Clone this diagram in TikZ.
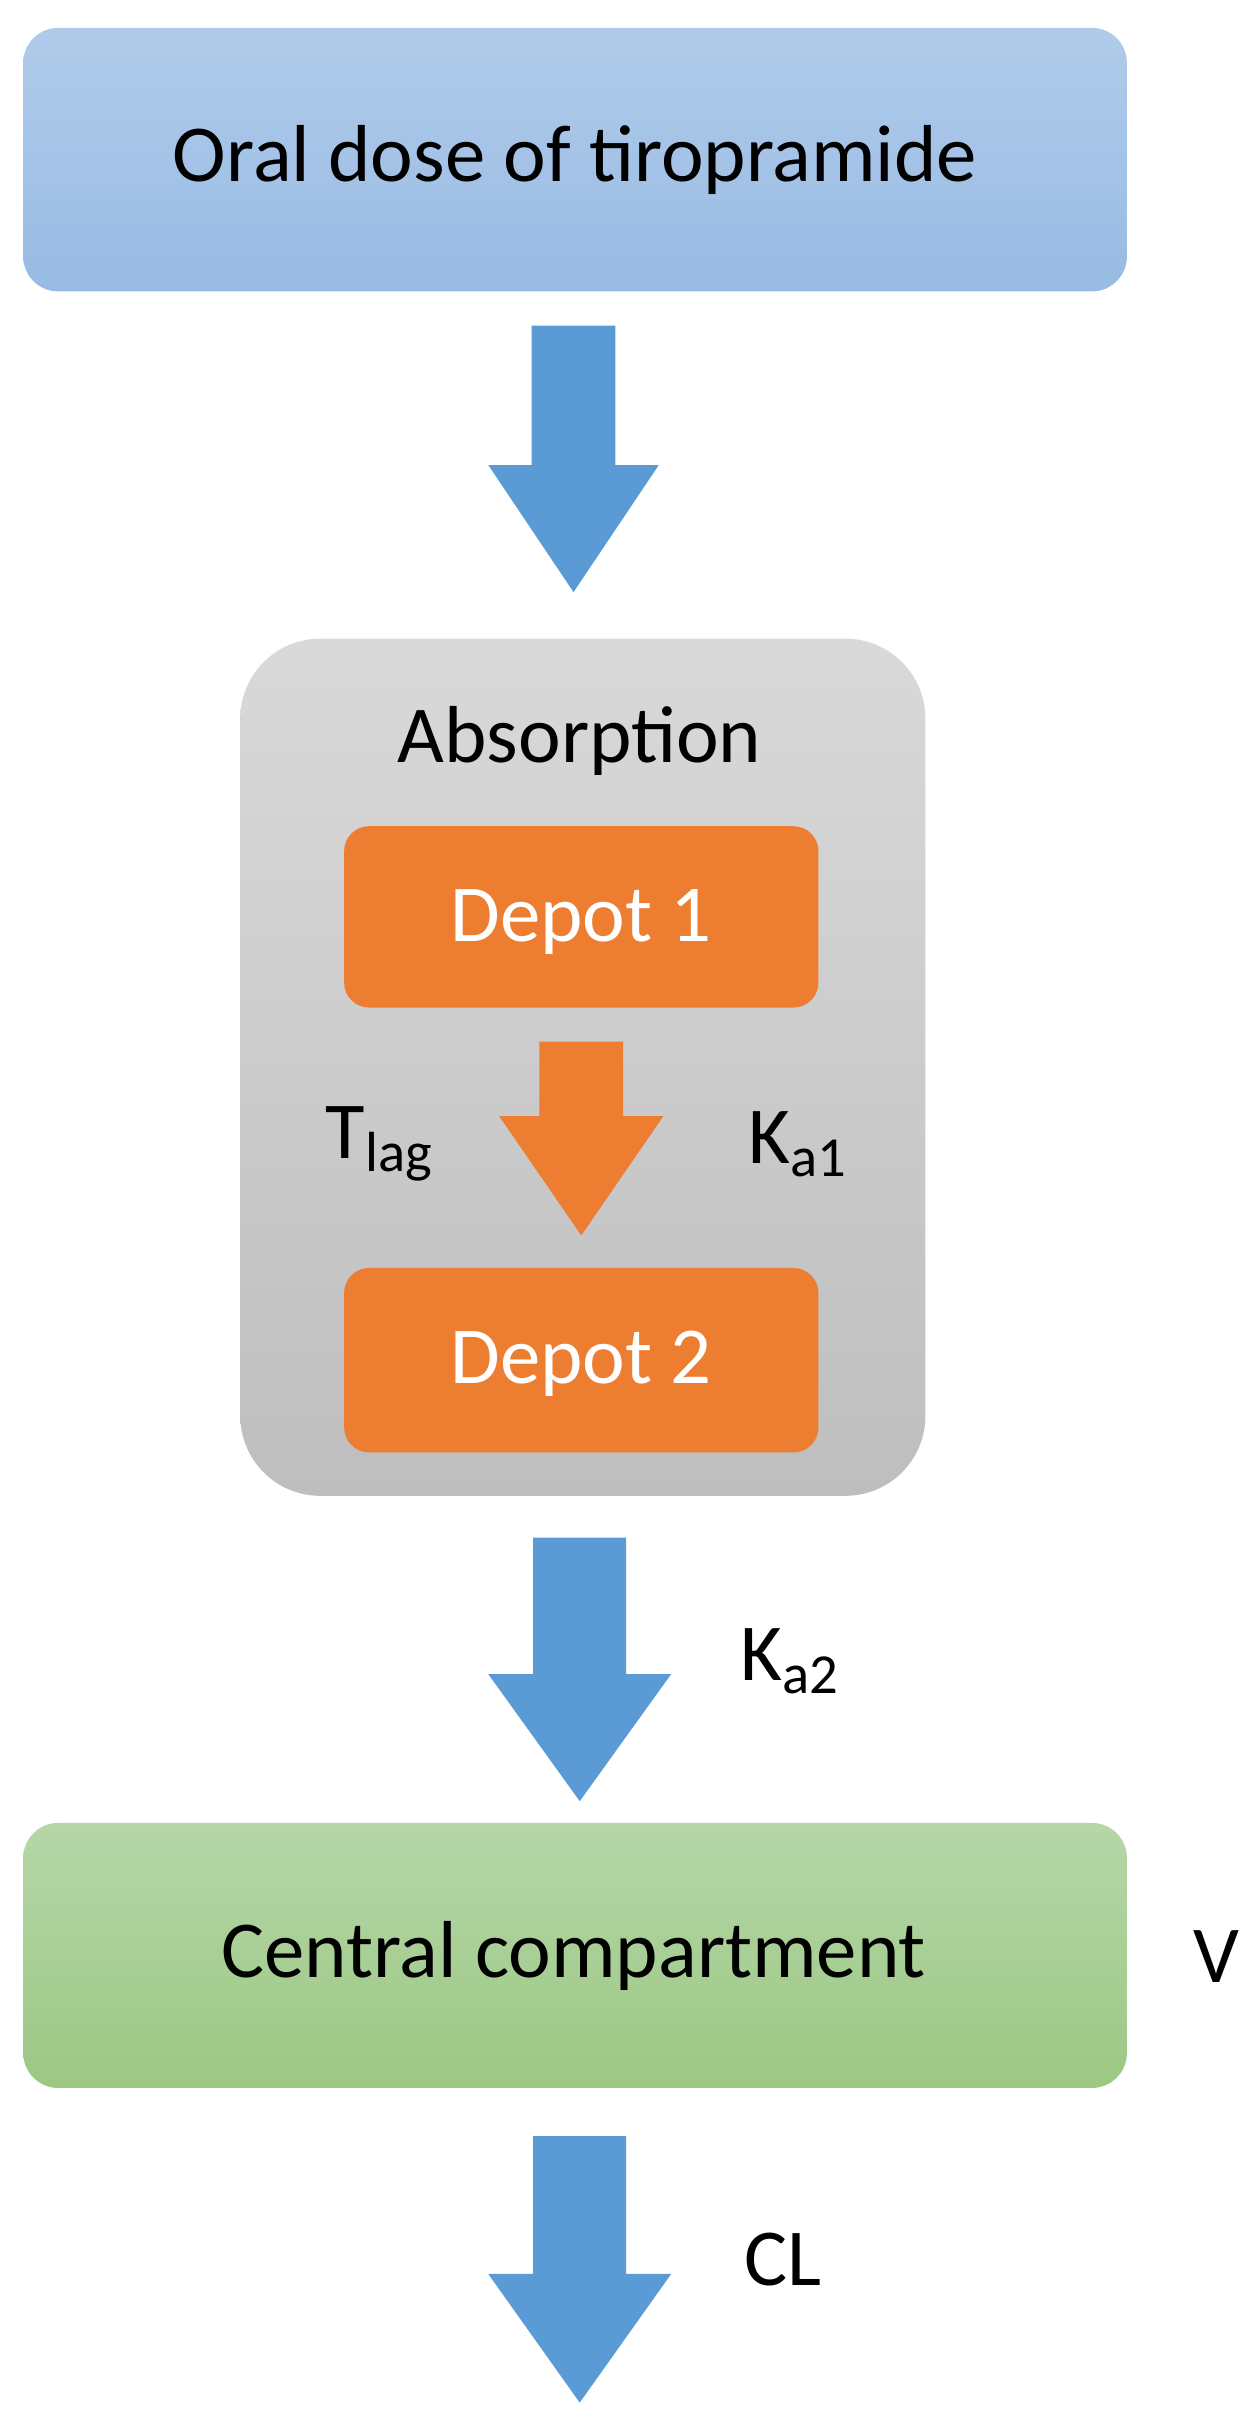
\documentclass[tikz,border=0pt]{standalone}
\usepackage{fontspec}
\setmainfont{Carlito}
\definecolor{arrblue}{HTML}{5B9BD5}
\definecolor{orng}{HTML}{ED7D31}
\begin{document}
\begin{tikzpicture}[x=0.0155cm,y=-0.0155cm,
  txt/.style={font=\fontsize{23}{27}\selectfont},
  box/.style={rounded corners=0.35cm},
  barr/.style={fill=arrblue,draw=none},
  oarr/.style={fill=orng,draw=none}]
\useasboundingbox (0,0) rectangle (812,1558);
% top box
\shade[box,top color=blue!25!cyan!10!white!100,bottom color=blue!25!cyan!10!white!100] (15,18) rectangle (727,188);
\definecolor{b1}{HTML}{B0CBEA}\definecolor{b2}{HTML}{98BBE3}
\shade[box,top color=b1,bottom color=b2] (15,18) rectangle (727,188);
\node[txt] (oral) at (371,103) {Oral dose of tiropramide};
% arrow 1
\fill[barr] (343,210) -- (397,210) -- (397,300) -- (425,300) -- (370,382) -- (315,300) -- (343,300) -- cycle;
% absorption
\definecolor{g1}{HTML}{D9D9D9}\definecolor{g2}{HTML}{BEBEBE}
\shade[rounded corners=0.8cm,top color=g1,bottom color=g2] (155,412) rectangle (597,965);
\node[txt] (abs) at (374,478) {Absorption};
\fill[orng,rounded corners=0.25cm] (222,533) rectangle (528,650);
\node[txt,text=white] (d1) at (375,595) {Depot 1};
\fill[oarr] (348,672) -- (402,672) -- (402,720) -- (428,720) -- (375,797) -- (322,720) -- (348,720) -- cycle;
\node[txt] (tlag) at (245,738) {T\textsubscript{lag}};
\node[txt] (ka1) at (515,738) {K\textsubscript{a1}};
\fill[orng,rounded corners=0.25cm] (222,818) rectangle (528,937);
\node[txt,text=white] (d2) at (375,880) {Depot 2};
% arrow 2
\fill[barr] (344,992) -- (404,992) -- (404,1080) -- (433,1080) -- (374,1162) -- (315,1080) -- (344,1080) -- cycle;
\node[txt] (ka2) at (510,1072) {K\textsubscript{a2}};
% central
\definecolor{c1}{HTML}{B6D6A8}\definecolor{c2}{HTML}{9BC883}
\shade[box,top color=c1,bottom color=c2] (15,1176) rectangle (727,1347);
\node[txt] (cent) at (370,1262) {Central compartment};
\node[txt] (v) at (785,1262) {V};
% arrow 3
\fill[barr] (344,1378) -- (404,1378) -- (404,1467) -- (433,1467) -- (374,1550) -- (315,1467) -- (344,1467) -- cycle;
\node[txt] (cl) at (505,1458) {CL};
\end{tikzpicture}
\end{document}
